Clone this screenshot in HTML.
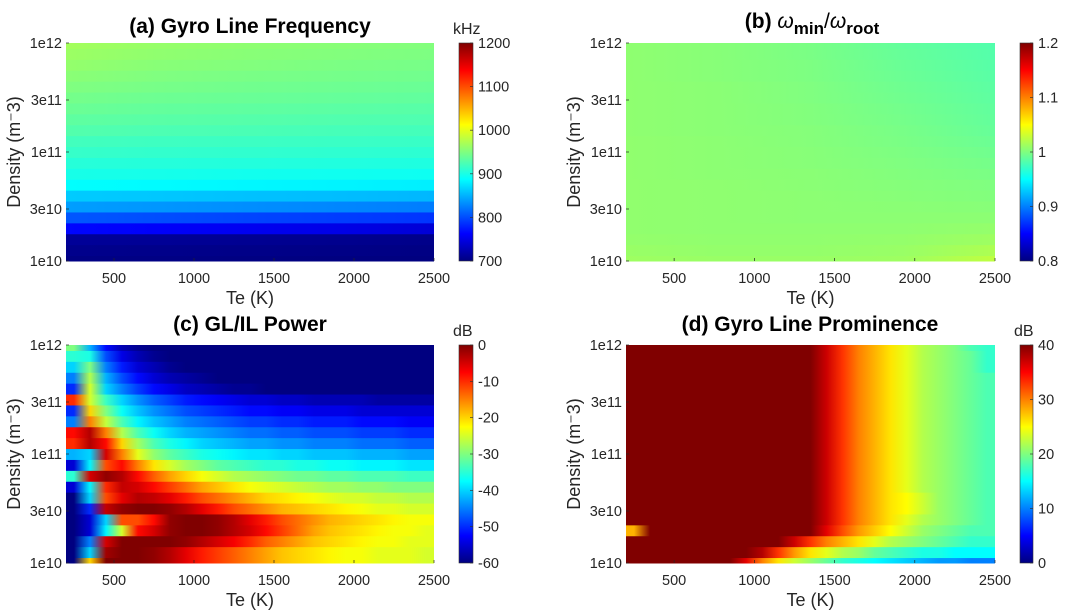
<!DOCTYPE html>
<html><head><meta charset="utf-8"><style>
html,body{margin:0;padding:0;background:#fff;}
svg{display:block;font-family:"Liberation Sans",Arial,sans-serif;}
</style></head><body>
<svg id="fig" width="1065" height="615" viewBox="0 0 1065 615" xmlns="http://www.w3.org/2000/svg">
<defs id="defs">
<linearGradient id="jetg" x1="0" y1="1" x2="0" y2="0">
<stop offset="0" stop-color="rgb(0,0,128)"/><stop offset="0.125" stop-color="rgb(0,0,255)"/>
<stop offset="0.375" stop-color="rgb(0,255,255)"/><stop offset="0.625" stop-color="rgb(255,255,0)"/>
<stop offset="0.875" stop-color="rgb(255,0,0)"/><stop offset="1" stop-color="rgb(128,0,0)"/>
</linearGradient>
</defs>
</svg>
<script>
// ---- data ----
const xTicks = [500, 1000, 1500, 2000, 2500];
const yTickVals = [1e10, 3e10, 1e11, 3e11, 1e12];
const yTickLabels = ["1e10", "3e10", "1e11", "3e11", "1e12"];
const densExp = [10,10.1,10.2,10.3,10.4,10.5,10.6,10.7,10.8,10.9,11,11.1,11.2,11.3,11.4,11.5,11.6,11.7,11.8,11.9,12];
const teCoarse = [200, 775, 1350, 1925, 2500];
const teFine = [250,350,450,550,650,750,850,950,1050,1150,1250,1350,1450,1550,1650,1750,1850,1950,2050,2150,2250,2350,2450];

const zA = [
[702,702,701,700,700],[706,705,704,703,702],[712,711,709,707,705],[765,760,755,750,742],
[805,800,796,792,788],[840,836,832,828,824],[862,860,857,855,852],[888,886,884,882,880],
[899,898,896,895,894],[906,905,904,903,902],[914,912,911,910,909],[920,918,917,916,915],
[928,925,924,922,921],[934,931,929,927,926],[940,936,934,932,930],[945,941,939,937,935],
[950,946,943,941,939],[955,950,947,945,943],[960,954,951,948,946],[964,958,954,951,949],[968,961,957,954,951]
];
const zB = [
[1.012,1.010,1.010,1.012,1.025],[1.010,1.008,1.008,1.010,1.018],[1.008,1.007,1.007,1.008,1.012],
[1.007,1.006,1.006,1.006,1.008],[1.007,1.006,1.005,1.005,1.005],[1.007,1.006,1.005,1.004,1.003],
[1.007,1.006,1.005,1.003,1.001],[1.007,1.006,1.004,1.002,1.000],[1.007,1.005,1.004,1.001,0.998],
[1.007,1.005,1.003,1.000,0.996],[1.007,1.005,1.003,0.999,0.994],[1.007,1.005,1.002,0.998,0.992],
[1.006,1.004,1.002,0.997,0.990],[1.006,1.004,1.001,0.996,0.989],[1.006,1.004,1.001,0.995,0.988],
[1.006,1.004,1.000,0.994,0.987],[1.006,1.004,1.000,0.993,0.986],[1.006,1.003,0.999,0.992,0.985],
[1.006,1.003,0.999,0.991,0.984],[1.006,1.003,0.998,0.990,0.983],[1.006,1.003,0.998,0.989,0.982]
];
const zC = [
[-60,-20,0,0,0,-1,-3,-6,-9,-11,-13,-15,-17,-19,-20,-21,-22,-23,-23,-24,-24,-24,-25],
[-60,-40,-2,0,0,-1,-3,-6,-9,-11,-13,-15,-17,-19,-20,-21,-22,-23,-23,-24,-24,-24,-25],
[-60,-45,-5,0,0,0,0,-1,-3,-5,-7,-10,-13,-15,-17,-19,-20,-21,-22,-23,-23,-24,-24],
[-60,-55,-38,-25,-8,-5,-1,0,0,-1,-3,-5,-8,-11,-14,-17,-19,-20,-21,-22,-23,-23,-24],
[-60,-55,-40,-12,-12,-8,-1,0,0,-1,-3,-6,-9,-12,-14,-16,-18,-19,-20,-21,-22,-23,-23],
[-60,-50,-4,-1,0,0,-1,-3,-6,-9,-12,-14,-16,-18,-19,-20,-21,-22,-23,-24,-24,-25,-25],
[-60,-40,-12,-6,-3,-4,-6,-9,-12,-14,-16,-18,-20,-21,-22,-23,-24,-25,-25,-26,-26,-27,-27],
[-55,-38,-10,-4,-5,-8,-11,-14,-17,-19,-21,-23,-24,-25,-26,-27,-28,-28,-29,-29,-30,-30,-30],
[-35,-5,-1,-3,-8,-13,-17,-20,-23,-25,-27,-28,-29,-30,-31,-31,-32,-32,-33,-33,-33,-34,-34],
[-55,-38,-12,-8,-15,-21,-25,-28,-30,-32,-33,-34,-35,-35,-36,-36,-37,-37,-38,-38,-38,-39,-39],
[-42,-40,-5,-15,-24,-29,-32,-34,-36,-37,-38,-39,-39,-40,-40,-41,-41,-41,-42,-42,-42,-43,-43],
[-10,-3,-8,-20,-28,-33,-36,-38,-40,-41,-42,-43,-43,-44,-44,-45,-45,-45,-46,-46,-46,-47,-47],
[-8,-3,-15,-27,-33,-37,-40,-42,-43,-44,-45,-46,-46,-47,-47,-48,-48,-48,-49,-49,-49,-50,-50],
[-45,-15,-26,-33,-38,-41,-43,-45,-46,-47,-48,-49,-49,-50,-50,-51,-51,-51,-52,-52,-52,-53,-53],
[-50,-20,-30,-37,-41,-44,-46,-48,-49,-50,-51,-52,-52,-53,-53,-54,-54,-54,-55,-55,-55,-55,-55],
[-10,-25,-34,-40,-44,-47,-49,-51,-52,-53,-54,-55,-55,-56,-56,-57,-57,-57,-57,-58,-58,-58,-58],
[-50,-25,-40,-45,-49,-52,-54,-56,-57,-58,-59,-59,-60,-60,-60,-60,-60,-60,-60,-60,-60,-60,-60],
[-45,-27,-42,-48,-52,-55,-57,-58,-59,-60,-60,-60,-60,-60,-60,-60,-60,-60,-60,-60,-60,-60,-60],
[-40,-30,-45,-51,-55,-57,-59,-60,-60,-60,-60,-60,-60,-60,-60,-60,-60,-60,-60,-60,-60,-60,-60],
[-35,-36,-48,-54,-57,-59,-60,-60,-60,-60,-60,-60,-60,-60,-60,-60,-60,-60,-60,-60,-60,-60,-60],
[-30,-42,-52,-57,-59,-60,-60,-60,-60,-60,-60,-60,-60,-60,-60,-60,-60,-60,-60,-60,-60,-60,-60]
];
const zD = [
[40,40,40,40,40,40,40,36,30,26,23,21,19,17,16,15,14,13,12,11,11,10,10],
[40,40,40,40,40,40,40,40,38,33,29,26,24,22,21,19,18,17,16,16,15,15,15],
[40,40,40,40,40,40,40,40,40,40,37,33,30,28,26,24,22,21,20,19,18,17,17],
[28,40,40,40,40,40,40,40,40,40,40,40,36,32,29,27,25,23,21,20,19,18,18],
[40,40,40,40,40,40,40,40,40,40,40,40,37,33,30,28,26,24,22,21,20,19,18],
[40,40,40,40,40,40,40,40,40,40,40,40,37,33,30,28,26,25,23,21,20,19,18],
[40,40,40,40,40,40,40,40,40,40,40,40,37,33,30,28,26,25,23,21,20,19,18],
[40,40,40,40,40,40,40,40,40,40,40,40,37,33,30,28,26,24,22,21,20,19,18],
[40,40,40,40,40,40,40,40,40,40,40,40,37,33,30,28,26,24,22,21,20,19,18],
[40,40,40,40,40,40,40,40,40,40,40,40,37,33,30,28,26,24,22,21,20,19,18],
[40,40,40,40,40,40,40,40,40,40,40,40,37,33,30,28,26,24,22,21,20,19,18],
[40,40,40,40,40,40,40,40,40,40,40,40,37,33,30,28,26,24,22,21,20,19,18],
[40,40,40,40,40,40,40,40,40,40,40,40,37,33,30,28,26,24,22,21,20,19,18],
[40,40,40,40,40,40,40,40,40,40,40,40,37,33,30,28,26,24,22,21,20,19,18],
[40,40,40,40,40,40,40,40,40,40,40,40,37,33,30,28,26,24,22,21,20,19,18],
[40,40,40,40,40,40,40,40,40,40,40,40,37,33,30,28,26,24,22,21,20,19,18],
[40,40,40,40,40,40,40,40,40,40,40,40,37,33,30,28,26,24,22,21,20,19,18],
[40,40,40,40,40,40,40,40,40,40,40,40,37,33,30,28,26,24,22,21,20,19,18],
[40,40,40,40,40,40,40,40,40,40,40,40,37,33,30,28,26,24,22,21,20,19,17],
[40,40,40,40,40,40,40,40,40,40,40,40,37,33,30,28,26,24,22,21,20,19,17],
[40,40,40,40,40,40,40,40,40,40,40,40,37,33,30,28,26,24,22,21,20,18,17]
];
const cbTicksA = [700,800,900,1000,1100,1200];
const cbTicksB = [0.8,0.9,1,1.1,1.2];
const cbTicksC = [-60,-50,-40,-30,-20,-10,0];
const cbTicksD = [0,10,20,30,40];

// ---- drawing ----
const NS = "http://www.w3.org/2000/svg";
const svg = document.getElementById("fig");
const defs = document.getElementById("defs");
function mk(tag, attrs, parent) {
  const e = document.createElementNS(NS, tag);
  for (const k in attrs) e.setAttribute(k, attrs[k]);
  (parent || svg).appendChild(e);
  return e;
}
function clamp(v){return Math.max(0,Math.min(1,v));}
function jet(t){
  t = clamp(t);
  const r = clamp(1.5-Math.abs(4*t-3)), g = clamp(1.5-Math.abs(4*t-2)), b = clamp(1.5-Math.abs(4*t-1));
  return "rgb("+Math.round(r*255)+","+Math.round(g*255)+","+Math.round(b*255)+")";
}
const TXT = "#262626";
let gid = 0;

function panel(cfg){
  const {L,R,T,B,cbL,cbR} = cfg;
  const g = mk("g", {});
  
  
  const xs = v => L + (v-200)/(2500-200)*(R-L);
  const ys = e => B - (e-10)/2*(B-T);
  const hm = mk("g", {}, g);
  
  
  const x0 = xs(cfg.te[0]), x1 = xs(cfg.te[cfg.te.length-1]);
  cfg.z.forEach((row, k) => {
    const e = densExp[k];
    const y1 = ys(Math.min(12, e+0.05)), y2 = ys(Math.max(10, e-0.05));
    const id = "rg" + (gid++);
    const lg = mk("linearGradient", {id:id, gradientUnits:"userSpaceOnUse", x1:x0, y1:0, x2:x1, y2:0}, defs);
    row.forEach((v, i) => {
      const c = cfg.te[i];
      mk("stop", {offset:((xs(c)-x0)/(x1-x0)).toFixed(4), "stop-color":jet((v-cfg.min)/(cfg.max-cfg.min))}, lg);
    });
    const r = mk("rect", {x:L, y:y1.toFixed(2), width:R-L, height:(y2-y1+0.5).toFixed(2), fill:"url(#"+id+")"}, hm);
    
    
  });
  xTicks.forEach(v => {
    const x = xs(v);
    const tk = mk("line", {x1:x, y1:B, x2:x, y2:B-3, stroke:TXT, "stroke-width":0.7}, g);
    
    
    const t = mk("text", {x:x, y:B+22, "font-size":14.5, fill:TXT, "text-anchor":"middle"}, g);
    t.textContent = v;
    
    
  });
  yTickVals.forEach((v, i) => {
    const y = ys(Math.log10(v));
    const tk = mk("line", {x1:L, y1:y, x2:L+3, y2:y, stroke:TXT, "stroke-width":0.7}, g);
    
    
    const t = mk("text", {x:L-4, y:y+5, "font-size":14.5, fill:TXT, "text-anchor":"end"}, g);
    t.textContent = yTickLabels[i];
    
    
  });
  const xt = mk("text", {x:(L+R)/2, y:B+43, "font-size":18, fill:TXT, "text-anchor":"middle"}, g);
  xt.textContent = "Te (K)";
  
  
  const cy = (T+B)/2, cx = L-46;
  const yt = mk("text", {x:cx, y:cy, "font-size":18, fill:TXT, "text-anchor":"middle", transform:"rotate(-90 "+cx+" "+cy+")"}, g);
  yt.textContent = "Density (m\u207B3)";
  
  
  const cb = mk("rect", {x:cbL, y:T, width:cbR-cbL, height:B-T, fill:"url(#jetg)", stroke:"#333", "stroke-width":0.6}, g);
  
  
  cfg.cbTicks.forEach(v => {
    const y = B - (v-cfg.min)/(cfg.max-cfg.min)*(B-T);
    const tk = mk("line", {x1:cbR, y1:y, x2:cbR-3, y2:y, stroke:"#333", "stroke-width":0.7}, g);
    
    
    const t = mk("text", {x:cbR+5, y:y+5, "font-size":14.5, fill:TXT}, g);
    t.textContent = String(v);
    
    
  });
  if (cfg.unit) {
    const u = mk("text", {x:cbL-6, y:T-9, "font-size":16, fill:TXT}, g);
    u.textContent = cfg.unit;
    
    
  }
  return g;
}

panel({name:"panel-a", L:66, R:434, T:43, B:261, cbL:459, cbR:473, z:zA, te:teCoarse, min:700, max:1200, cbTicks:cbTicksA, unit:"kHz"});
panel({name:"panel-b", L:626, R:995, T:43, B:261, cbL:1020, cbR:1033, z:zB, te:teCoarse, min:0.8, max:1.2, cbTicks:cbTicksB, unit:""});
panel({name:"panel-c", L:66, R:434, T:345, B:563, cbL:459, cbR:473, z:zC, te:teFine, min:-60, max:0, cbTicks:cbTicksC, unit:"dB"});
panel({name:"panel-d", L:626, R:995, T:345, B:563, cbL:1020, cbR:1033, z:zD, te:teFine, min:0, max:40, cbTicks:cbTicksD, unit:"dB"});

function title(x, y, s, name){
  const t = mk("text", {x:x, y:y, "font-size":21, "font-weight":"bold", fill:"#000", "text-anchor":"middle"});
  t.textContent = s;
  
  
}
title(250, 33, "(a) Gyro Line Frequency", "title-a");
title(250, 331, "(c) GL/IL Power", "title-c");
title(810, 331, "(d) Gyro Line Prominence", "title-d");
const tb = mk("text", {x:812, y:28, "font-size":21, fill:"#000", "text-anchor":"middle"});


tb.innerHTML = '<tspan font-weight="bold">(b) </tspan><tspan font-style="italic">\u03C9</tspan><tspan font-weight="bold" font-size="17" dy="6">min</tspan><tspan dy="-6">/</tspan><tspan font-style="italic">\u03C9</tspan><tspan font-weight="bold" font-size="17" dy="6">root</tspan>';
</script>
</body></html>
